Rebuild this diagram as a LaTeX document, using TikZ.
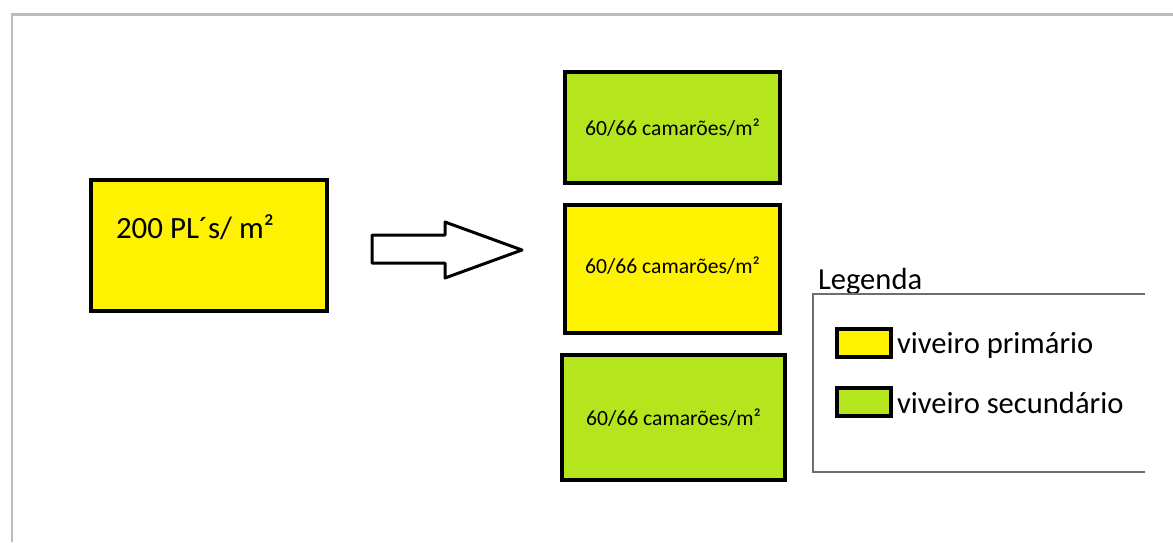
\documentclass[tikz,border=0pt]{standalone}
\usepackage{fontspec}
\setmainfont{Carlito}
\usetikzlibrary{positioning}

\definecolor{amarelo}{HTML}{FFF200}
\definecolor{verde}{HTML}{B5E61D}
\definecolor{moldura}{HTML}{BCBCBC}
\definecolor{linhaleg}{HTML}{6E6E6E}

\begin{document}
\begin{tikzpicture}[
    x=0.02cm, y=-0.02cm,
    every node/.style={inner sep=0pt, outer sep=0pt},
    viveiro/.style={draw, line width=0.08cm, minimum width=4.3cm, minimum height=2.22cm, align=center, font=\fontsize{12.3}{14}\selectfont},
    amostra/.style={draw, line width=0.07cm, minimum width=1.08cm, minimum height=0.56cm},
    legtexto/.style={font=\fontsize{17.4}{20}\selectfont, anchor=base west}
]
\useasboundingbox (0,0) rectangle (1173,542);

% moldura
\draw[moldura, line width=0.06cm] (12,542) -- (12,14) -- (1173,14);

% viveiro inicial
\node[viveiro, fill=amarelo, minimum width=4.72cm, minimum height=2.62cm] (pl) at (209,245.5) {};
\node[anchor=base west, font=\fontsize{17.6}{20}\selectfont] (pltexto) at (116,238) {200 PL´s/ m²};

% seta
\draw[line width=0.06cm, line join=round, fill=white]
    (372,235) -- (445,235) -- (445,222) -- (522,250) -- (445,278) -- (445,263) -- (372,263) -- cycle;

% viveiros de destino
\node[viveiro, fill=verde] (cima) at (672.5,127.5) {60/66 camarões/m²};
\node[viveiro, fill=amarelo, minimum height=2.56cm] (meio) at (672.5,269) {\raisebox{0.16cm}{60/66 camarões/m²}};
\node[viveiro, fill=verde, minimum width=4.46cm, minimum height=2.5cm] (baixo) at (673.5,417.5) {60/66 camarões/m²};

% legenda
\node[legtexto] (legenda) at (818,289) {Legenda};
\draw[linhaleg, line width=0.03cm] (1145,294) -| (813,472) -- (1145,472);
\node[amostra, fill=amarelo] (amostra1) at (864,343) {};
\node[amostra, fill=verde] (amostra2) at (864,402) {};
\node[legtexto] (primario) at (897,353) {viveiro primário};
\node[legtexto] (secundario) at (897,413) {viveiro secundário};

\end{tikzpicture}
\end{document}
